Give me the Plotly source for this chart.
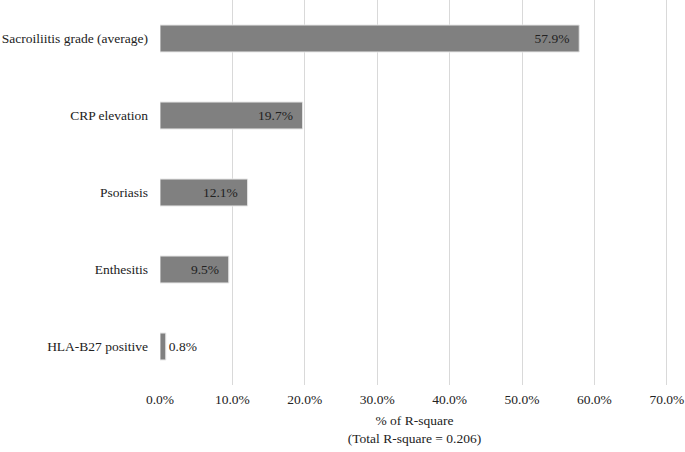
import plotly.graph_objects as go

categories = ["Sacroiliitis grade (average)", "CRP elevation", "Psoriasis", "Enthesitis", "HLA-B27 positive"]
values = [57.9, 19.7, 12.1, 9.5, 0.8]
label_pos = ["inside", "inside", "inside", "inside", "outside"]
tick_vals = [0, 10, 20, 30, 40, 50, 60, 70]
tick_text = ["0.0%", "10.0%", "20.0%", "30.0%", "40.0%", "50.0%", "60.0%", "70.0%"]

font_family = "Times New Roman, Liberation Serif, serif"
pad = "\u00a0\u00a0"
labels = [f"{v:.1f}%" + (pad if p == "inside" else "") for v, p in zip(values, label_pos)]

fig = go.Figure(go.Bar(
    y=categories,
    x=values,
    orientation="h",
    marker=dict(color="#808080", line=dict(color="#e6e6e6", width=1)),
    width=0.35,
    text=labels,
    textposition=label_pos,
    insidetextanchor="end",
    textfont=dict(family=font_family, size=13.5, color="#222222"),
    cliponaxis=False,
))

fig.update_layout(
    width=685, height=452,
    margin=dict(l=160, r=16, t=0, b=67),
    paper_bgcolor="white", plot_bgcolor="white",
    font=dict(family=font_family, size=13.5, color="#222222"),
    showlegend=False,
    xaxis=dict(
        range=[0, 70.3], tickvals=tick_vals, ticktext=tick_text,
        showgrid=True, gridcolor="#d9d9d9", gridwidth=1,
        zeroline=False, showline=False, ticks="",
        ticklabelstandoff=4, automargin=False, ticklabeloverflow="allow",
        title=dict(text="% of R-square<br>(Total R-square = 0.206)", standoff=10,
                   font=dict(family=font_family, size=13.5, color="#222222")),
    ),
    yaxis=dict(
        autorange="reversed", showgrid=False, zeroline=False, showline=False,
        ticks="", ticklabelstandoff=11, automargin=False,
    ),
)

fig.write_html("out.html", config={"displayModeBar": False},
               post_script="document.body.style.margin='0';")
